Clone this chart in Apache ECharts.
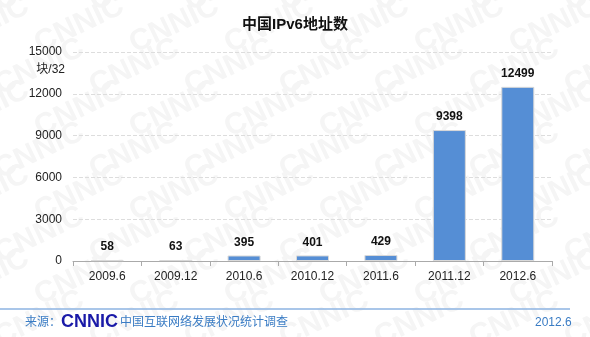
<!DOCTYPE html>
<html><head><meta charset="utf-8">
<script src="https://cdn.jsdelivr.net/npm/echarts@6/dist/echarts.min.js"></script>
<style>html,body{margin:0;padding:0;background:#fff}#c{width:590px;height:337px}</style>
</head><body><div id="c"></div>
<script>
var categories = ['2009.6','2009.12','2010.6','2010.12','2011.6','2011.12','2012.6'];
var values = [58, 63, 395, 401, 429, 9398, 12499];
var yTicks = [0, 3000, 6000, 9000, 12000, 15000];

var chart = echarts.init(document.getElementById('c'));
var wm = [];
for (var r = -1; r < 9; r++) {
  for (var k = -1; k < 8; k++) {
    wm.push({type:'text', x: k*95 + (r%2)*40 - 10, y: r*42 - 10, rotation: Math.PI/7, z: -10,
      style:{text:'CNNIC', font:'bold 30px "Liberation Sans", Arial', fill:'#f5f5f5'}});
  }
}
var font = '"Liberation Sans", "Noto Sans CJK SC", Arial, sans-serif';
chart.setOption({
  animation:false,
  title:{text:'中国IPv6地址数', left:'center', top:12, textStyle:{fontSize:15, fontWeight:'bold', color:'#111', fontFamily:font}},
  grid:{left:73, right:38, top:52, bottom:76},
  xAxis:{type:'category', data:categories,
    axisLine:{lineStyle:{color:'#aaa'}},
    axisTick:{show:true, length:5, lineStyle:{color:'#aaa'}},
    axisLabel:{color:'#222', fontSize:12, margin:10, fontFamily:font}},
  yAxis:{type:'value', min:yTicks[0], max:yTicks[yTicks.length-1], interval:3000,
    axisLine:{show:false}, axisTick:{show:false},
    axisLabel:{color:'#222', fontSize:12, margin:11, fontFamily:font, formatter:function(v){return String(v);}},
    splitLine:{lineStyle:{color:'#ddd', type:'dashed'}}},
  series:[{type:'bar', data:values, barWidth:33,
    itemStyle:{color:'#558ed5', borderColor:'#d9d9d9', borderWidth:1},
    label:{show:true, position:'top', color:'#111', fontWeight:'bold', fontSize:12, distance:7, fontFamily:font}}],
  graphic:wm.concat([
    {type:'text', x:65, y:64, style:{text:'块/32', font:'12px ' + font, fill:'#222', align:'right'}},
    {type:'line', shape:{x1:0, y1:309, x2:570, y2:309}, style:{stroke:'#8db3e2', lineWidth:1.5}},
    {type:'text', x:25, y:317, style:{text:'来源：', font:'12px ' + font, fill:'#3a7cc4'}},
    {type:'text', x:61, y:313, style:{text:'CNNIC', font:'bold 18px "Liberation Sans", Arial', fill:'#1a1aa8'}},
    {type:'text', x:120, y:317, style:{text:'中国互联网络发展状况统计调查', font:'12px ' + font, fill:'#3a7cc4'}},
    {type:'text', x:535, y:317, style:{text:'2012.6', font:'12px ' + font, fill:'#3a7cc4'}}
  ])
});
</script></body></html>
